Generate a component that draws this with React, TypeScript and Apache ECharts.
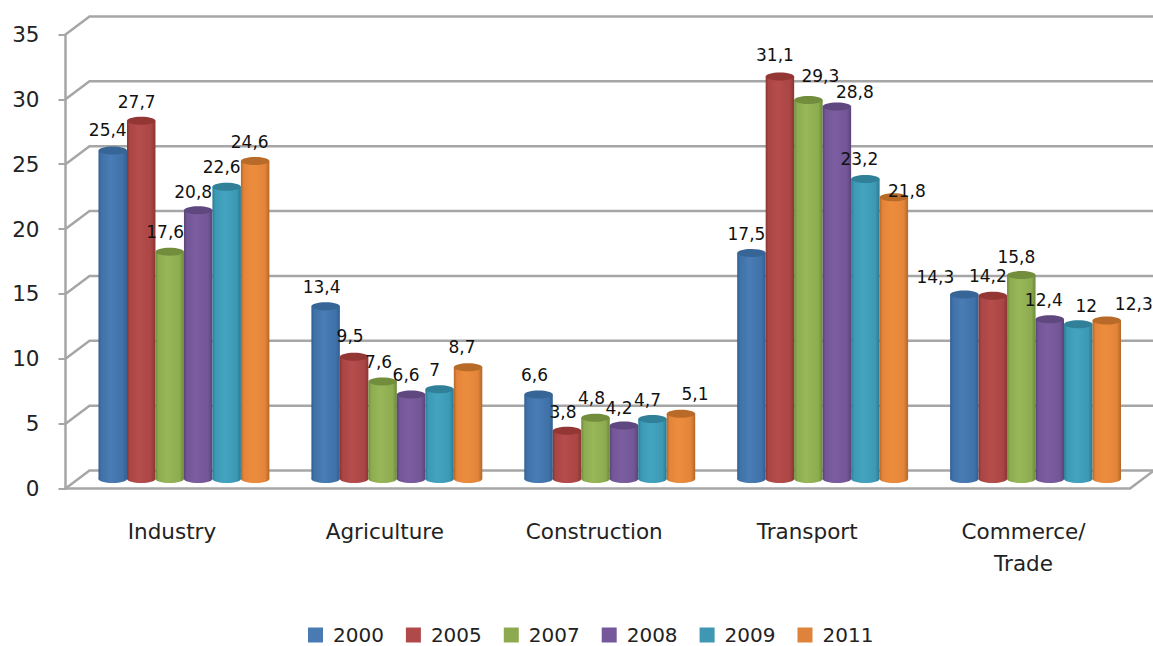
import React, { useEffect, useRef } from "react";
import * as echarts from "echarts";

const categories = ["Industry", "Agriculture", "Construction", "Transport", "Commerce/\nTrade"];
const yTicks = [0, 5, 10, 15, 20, 25, 30, 35];
const years = ["2000", "2005", "2007", "2008", "2009", "2011"];
const v2000 = [25.4, 13.4, 6.6, 17.5, 14.3];
const v2005 = [27.7, 9.5, 3.8, 31.1, 14.2];
const v2007 = [17.6, 7.6, 4.8, 29.3, 15.8];
const v2008 = [20.8, 6.6, 4.2, 28.8, 12.4];
const v2009 = [22.6, 7, 4.7, 23.2, 12];
const v2011 = [24.6, 8.7, 5.1, 21.8, 12.3];
const allValues = [v2000, v2005, v2007, v2008, v2009, v2011];

// label nudges from the top of each cylinder [dx, dy]
const nudges2000 = [[-5, -20], [-4, -19], [-4, -18.5], [-5, -19], [-29, -17]];
const nudges2005 = [[-4.5, -18], [-4, -20], [-4, -18], [-5, -21], [-5, -19]];
const nudges2007 = [[-4.5, -19], [-4, -19], [-4, -19], [12, -23], [-5, -18]];
const nudges2008 = [[-5, -18], [-5, -18.5], [-5, -17], [18, -14], [-6, -19]];
const nudges2009 = [[-5, -19], [-5, -19], [-5, -19], [-6, -20], [8, -18]];
const nudges2011 = [[-5.5, -18], [-6, -20], [14, -19], [13, -6], [27, -16]];
const allNudges = [nudges2000, nudges2005, nudges2007, nudges2008, nudges2009, nudges2011];

const legendColors = ["#4a7ab2", "#b0494a", "#8eaa51", "#75579a", "#3f97b3", "#de8339"];
const bodyEdge = ["#2f5e92", "#8a3534", "#6c8a3a", "#5a4378", "#2a7a93", "#b2682a"];
const bodyMid = ["#4072a9", "#aa4644", "#8cac4f", "#725696", "#3c99b4", "#e38439"];
const bodyLight = ["#4a7cb5", "#b54d4b", "#97b759", "#7c5ea0", "#44a4c0", "#ec8d3e"];
const capColor = ["#376596", "#943634", "#728e3d", "#5f477f", "#2f8098", "#b86b28"];

const FONT = "DejaVu Sans";
const DEPTH_X = 24;
const DEPTH_Y = 18;
const BAR_SHARE = 0.1338;
const GRID_COLOR = "#a6a6a6";
const CAT_FONT = 21.5;

const wallItem = (params: any, api: any) => {
  const x0 = params.coordSys.x;
  const x1 = x0 + params.coordSys.width;
  const p = api.coord([0, api.value(0)]);
  const y = p[1];
  const children: any[] = [
    {
      type: "polyline",
      shape: { points: [[x0, y], [x0 + DEPTH_X, y - DEPTH_Y], [x1 + DEPTH_X, y - DEPTH_Y]] },
      style: { stroke: GRID_COLOR, lineWidth: 2.5, fill: "none" },
    },
  ];
  if (api.value(0) === 0) {
    children.push({
      type: "line",
      shape: { x1, y1: y, x2: x1 + DEPTH_X, y2: y - DEPTH_Y },
      style: { stroke: GRID_COLOR, lineWidth: 2.5 },
    });
  }
  return { type: "group", children };
};

const barItem = (s: number) => (params: any, api: any) => {
  const cat = api.value(0);
  const val = api.value(1);
  const band = api.size([1, 0])[0];
  const w = band * BAR_SHARE;
  const base = api.coord([cat, 0]);
  const top = api.coord([cat, val]);
  const cx = base[0] + (s - 2.5) * w + DEPTH_X / 2;
  const yBase = base[1] - DEPTH_Y / 2 - 0.5;
  const yTop = top[1] - DEPTH_Y / 2 + 0.5;
  const rx = w / 2;
  const ry = 4;
  const fill = new echarts.graphic.LinearGradient(0, 0, 1, 0, [
    { offset: 0, color: bodyEdge[s] },
    { offset: 0.1, color: bodyMid[s] },
    { offset: 0.42, color: bodyLight[s] },
    { offset: 0.85, color: bodyMid[s] },
    { offset: 1, color: bodyEdge[s] },
  ]);
  const n = allNudges[s][params.dataIndex];
  return {
    type: "group",
    children: [
      { type: "ellipse", shape: { cx, cy: yBase, rx, ry }, style: { fill } },
      { type: "rect", shape: { x: cx - rx, y: yTop, width: w, height: yBase - yTop }, style: { fill } },
      { type: "ellipse", shape: { cx, cy: yTop, rx, ry }, style: { fill: capColor[s] } },
      {
        type: "text",
        z2: 100,
        x: cx + n[0],
        y: yTop + n[1] - 0.5,
        style: {
          text: String(val).replace(".", ","),
          fontFamily: FONT,
          fontSize: 17,
          fill: "#111",
          align: "center",
          verticalAlign: "middle",
        },
      },
    ],
  };
};

export default function App() {
  const ref = useRef<HTMLDivElement>(null);
  useEffect(() => {
    const chart = echarts.init(ref.current!, undefined, { renderer: "svg" });
    chart.setOption({
      animation: false,
      backgroundColor: "#fff",
      grid: { left: 65.5, right: 23, top: 34.5, bottom: 157.5, containLabel: false },
      legend: {
        data: years,
        left: 308,
        top: 625,
        padding: 0,
        icon: "rect",
        itemWidth: 15,
        itemHeight: 15,
        itemGap: 22,
        selectedMode: false,
        textStyle: { fontFamily: FONT, fontSize: 20, color: "#222", padding: [0, 0, 0, 5] },
      },
      xAxis: {
        type: "category",
        data: categories,
        boundaryGap: true,
        axisLine: { lineStyle: { color: GRID_COLOR, width: 2.5 } },
        axisTick: { length: 9, lineStyle: { color: GRID_COLOR, width: 2 } },
        axisLabel: {
          margin: 27,
          interval: 0,
          fontFamily: FONT,
          fontSize: CAT_FONT,
          lineHeight: 32,
          color: "#222",
          formatter: (v: string, i: number) => (i === 2 || i === 3 ? `{s|${v}}` : v),
          rich: { s: { fontFamily: FONT, fontSize: CAT_FONT, color: "#222", padding: [0, 7, 0, 0] } },
        },
      },
      yAxis: {
        type: "value",
        min: 0,
        max: 35,
        interval: 5,
        axisLine: { show: true, lineStyle: { color: GRID_COLOR, width: 2.5 } },
        axisTick: { show: true, length: 7, lineStyle: { color: GRID_COLOR, width: 2 } },
        splitLine: { show: false },
        axisLabel: { margin: 26, fontFamily: FONT, fontSize: 21.5, color: "#222" },
      },
      series: [
        {
          type: "custom",
          name: "wall",
          silent: true,
          z: 1,
          renderItem: wallItem,
          encode: { y: 0 },
          data: yTicks.map((t) => [t]),
        },
        ...years.map((name, s) => ({
          type: "custom",
          name,
          z: 2,
          silent: true,
          itemStyle: { color: legendColors[s] },
          renderItem: barItem(s),
          encode: { x: 0, y: 1 },
          data: allValues[s].map((v, i) => [i, v]),
        })),
      ],
    });
    return () => chart.dispose();
  }, []);
  return (
    <div
      ref={ref}
      style={{ position: "fixed", left: 0, top: 0, width: 1153, height: 646, background: "#fff" }}
    />
  );
}
